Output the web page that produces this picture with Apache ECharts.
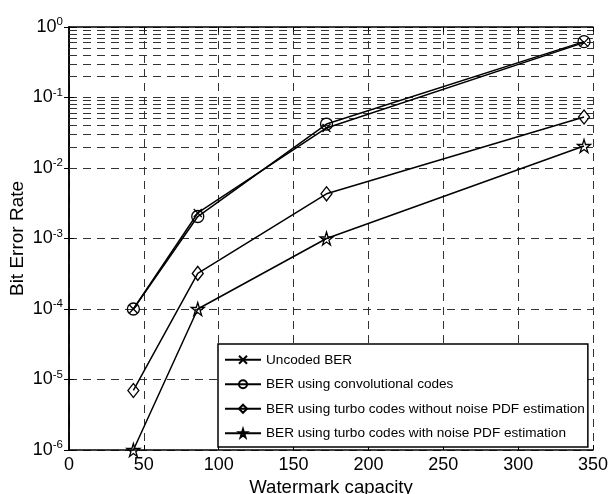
<!DOCTYPE html>
<html>
<head>
<meta charset="utf-8">
<script src="https://cdn.jsdelivr.net/npm/echarts@6/dist/echarts.min.js"></script>
<style>
  html, body { margin: 0; padding: 0; background: #fff; }
  #chart { width: 608px; height: 494px; }
</style>
</head>
<body>
<div id="chart"></div>
<script>
  // watermark capacity (x) and bit error rates
  const capacity = [43, 86, 172, 344];
  const berUncoded = [1e-4, 2.3e-3, 0.037, 0.6];
  const berConv = [1e-4, 2.05e-3, 0.042, 0.62];
  const berTurbo = [7e-6, 3.2e-4, 4.3e-3, 0.053];
  const berTurboPdf = [1e-6, 1e-4, 1e-3, 0.0205];
  const seriesNames = [
    'Uncoded BER',
    'BER using convolutional codes',
    'BER using turbo codes without noise PDF estimation',
    'BER using turbo codes with noise PDF estimation'
  ];
  const decades = [-6, -5, -4, -3, -2, -1];
  const minorSteps = [2, 3, 4, 5, 6, 7, 8, 9];

  const font = 'Liberation Sans, Arial, sans-serif';
  const crossPath = 'path://M0,0L10,10M10,0L0,10';
  const starPath = 'path://M50,0L61,35L98,35L68,57L79,91L50,70L21,91L32,57L2,35L39,35Z';

  var minorLines = [];
  decades.forEach(function (e) {
    minorSteps.forEach(function (m) {
      minorLines.push({ yAxis: m * Math.pow(10, e) });
    });
  });

  const pairs = function (ys) {
    return capacity.map(function (x, i) { return [x, ys[i]]; });
  };

  const makeSeries = function (name, ys, symbol, size) {
    return {
      name: name,
      type: 'line',
      data: pairs(ys),
      z: 5,
      symbol: symbol,
      symbolSize: size,
      showAllSymbol: true,
      lineStyle: { color: '#000', width: 1.5 },
      itemStyle: { color: 'rgba(0,0,0,0)', borderColor: '#000', borderWidth: 1.3 },
      emphasis: { disabled: true },
      animation: false
    };
  };

  const supLabel = function (v) {
    var e = Math.round(Math.log10(v));
    return '{a|10}{b|' + e + '}';
  };

  var dom = document.getElementById('chart');
  var myChart = echarts.init(dom, null, { renderer: 'canvas' });
  var option = {
    backgroundColor: '#fff',
    animation: false,
    textStyle: { fontFamily: font, color: '#000' },
    grid: {
      left: 69,
      right: 15,
      top: 27,
      bottom: 44,
      outerBoundsMode: 'none'
    },
    legend: {
      data: seriesNames,
      orient: 'vertical',
      left: 218,
      top: 344,
      padding: [8, 3, 6, 6],
      itemWidth: 36,
      itemHeight: 10,
      itemGap: 9,
      backgroundColor: '#fff',
      borderColor: '#000',
      borderWidth: 1.5,
      borderRadius: 0,
      textStyle: { fontFamily: font, fontSize: 13.6, color: '#000', lineHeight: 15.5 },
      selectedMode: false
    },
    xAxis: [{
      type: 'value',
      min: 0,
      max: 350,
      interval: 50,
      name: 'Watermark capacity',
      nameLocation: 'middle',
      nameGap: 28,
      nameMoveOverlap: false,
      nameTextStyle: { fontSize: 18.6, color: '#000', fontFamily: font },
      axisLine: { show: true, lineStyle: { color: '#000', width: 1.5 } },
      axisTick: { show: true, inside: true, length: 5, lineStyle: { color: '#000' } },
      axisLabel: { fontSize: 18, color: '#000', margin: 6, fontFamily: font },
      splitLine: { show: true, lineStyle: { color: '#333', type: [8, 6], width: 1 } }
    }, {
      type: 'value',
      position: 'top',
      min: 0,
      max: 350,
      interval: 50,
      axisLine: { show: true, lineStyle: { color: '#000', width: 1.5 } },
      axisTick: { show: true, inside: true, length: 5, lineStyle: { color: '#000' } },
      axisLabel: { show: false },
      splitLine: { show: false }
    }],
    yAxis: [{
      type: 'log',
      logBase: 10,
      min: 1e-6,
      max: 1,
      interval: 1,
      name: 'Bit Error Rate',
      nameLocation: 'middle',
      nameGap: 42,
      nameMoveOverlap: false,
      nameTextStyle: { fontSize: 19, color: '#000', fontFamily: font },
      axisLine: { show: true, lineStyle: { color: '#000', width: 1.5 } },
      axisTick: { show: true, inside: true, length: 5, lineStyle: { color: '#000' } },
      axisLabel: {
        formatter: supLabel,
        margin: 6,
        color: '#000',
        rich: {
          a: { fontSize: 18, fontFamily: font, color: '#000' },
          b: { fontSize: 11.5, fontFamily: font, color: '#000', verticalAlign: 'bottom', padding: [0, 0, 10, 0] }
        }
      },
      splitLine: { show: true, lineStyle: { color: '#333', type: [8, 6], width: 1 } }
    }, {
      type: 'log',
      logBase: 10,
      min: 1e-6,
      max: 1,
      interval: 1,
      position: 'right',
      axisLine: { show: true, lineStyle: { color: '#000', width: 1.5 } },
      axisTick: { show: true, inside: true, length: 5, lineStyle: { color: '#000' } },
      axisLabel: { show: false },
      splitLine: { show: false }
    }],
    series: [
      {
        name: 'minor-grid',
        type: 'line',
        data: [],
        z: 1,
        silent: true,
        markLine: {
          silent: true,
          symbol: 'none',
          animation: false,
          label: { show: false },
          lineStyle: { color: '#333', type: [8, 6], width: 1 },
          emphasis: { disabled: true },
          data: minorLines
        }
      },
      makeSeries(seriesNames[0], berUncoded, crossPath, 8),
      makeSeries(seriesNames[1], berConv, 'circle', 12),
      makeSeries(seriesNames[2], berTurbo, 'diamond', [11, 14]),
      makeSeries(seriesNames[3], berTurboPdf, starPath, 13)
    ]
  };
  option && myChart.setOption(option);
</script>
</body>
</html>
